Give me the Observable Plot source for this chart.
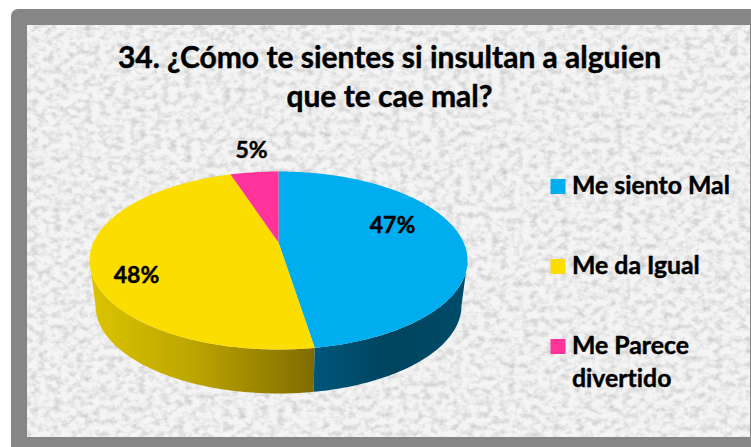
<!DOCTYPE html>
<html lang="es">
<head>
<meta charset="utf-8">
<script src="https://cdn.jsdelivr.net/npm/d3@7"></script>
<script src="https://cdn.jsdelivr.net/npm/@observablehq/plot@0.6"></script>
<style>
html,body{margin:0;padding:0;background:#fff;overflow:hidden}
svg{display:block}
text{font-variant-ligatures:none;font-kerning:normal}
</style>
</head>
<body>
<div id="chart"></div>
<script>
// Data
const categories = ["Me siento Mal", "Me da Igual", "Me Parece divertido"];
const shares = [47.5, 47.5, 5];
const valueLabels = ["47%", "48%", "5%"];
const sliceColors = ["#00AEEF", "#FBDD00", "#FF3399"];
const titleLines = ["34. ¿Cómo te sientes si insultan a alguien", "que te cae mal?"];
const legendLines = [["Me siento Mal"], ["Me da Igual"], ["Me Parece", "divertido"]];

// Layout
const W = 751, H = 447;
const pie = {cx: 278, apexY: 242, topY: 171, botY: 349, rx: 189, ellipseY: 260, depth: 45, wallRx: 183, wallRy: 88};
const labelPos = [[392, 225], [136, 275], [251, 150]];
const titleX = 389, titleY = [58, 97];
const legendX = 557.5, legendTextX = 571.5, legendY = [186, 266, 346], legendLineGap = 33;
const fontFamily = "Lato, Carlito, sans-serif";

// Perspective disc: maps an angle on the pie (clockwise from top) to the screen
const c = ((pie.botY - pie.apexY) - (pie.apexY - pie.topY)) / (pie.botY - pie.topY);
const a = pie.topY * (1 + c) - pie.apexY;
const k = pie.rx * Math.sqrt(1 - c * c);
function project(theta) {
  const u = Math.sin(theta), v = Math.cos(theta), w = 1 + c * v;
  return [pie.cx + k * u / w, (a * v + pie.apexY) / w];
}
function projectWall(theta) {
  const [x, y] = project(theta);
  return [pie.cx + (x - pie.cx) * pie.wallRx / pie.rx,
          pie.ellipseY + pie.depth + (y - pie.ellipseY) * pie.wallRy / (pie.ellipseY - pie.topY)];
}
const arcs = d3.pie().sort(null)(shares);
const STEP = Math.PI / 180;
function angles(t0, t1) {
  const n = Math.max(2, Math.ceil((t1 - t0) / STEP));
  return d3.range(n + 1).map(i => t0 + (t1 - t0) * i / n);
}
const topFace = arcs.flatMap((s, i) => {
  const rim = angles(s.startAngle, s.endAngle).map(project);
  return [[pie.cx, pie.apexY], ...rim].map(([x, y]) => ({x, y, name: categories[i]}));
});
// The visible side wall runs between the two silhouette points of the ellipse
const wallFrom = Math.acos(-c), wallTo = 2 * Math.PI - wallFrom;
function wall(i) {
  const t0 = Math.max(arcs[i].startAngle, wallFrom), t1 = Math.min(arcs[i].endAngle, wallTo);
  if (t1 <= t0) return [];
  const ts = angles(t0, t1);
  return [...ts.map(project), ...ts.slice().reverse().map(projectWall)].map(([x, y]) => ({x, y}));
}

const backdrop = () => {
  const g = d3.create("svg:g");
  g.html(`
    <defs>
      <linearGradient id="wallYellow" x1="0" x2="1" y1="0" y2="0">
        <stop offset="0" stop-color="#dcc400"/><stop offset="0.45" stop-color="#bda600"/><stop offset="1" stop-color="#7f6c00"/>
      </linearGradient>
      <linearGradient id="wallBlue" x1="0" x2="1" y1="0" y2="0">
        <stop offset="0" stop-color="#00567a"/><stop offset="0.5" stop-color="#00445e"/><stop offset="1" stop-color="#004c6a"/>
      </linearGradient>
      <filter id="grain" x="0" y="0" width="100%" height="100%">
        <feTurbulence type="fractalNoise" baseFrequency="0.13 0.16" numOctaves="4" seed="11" result="t"/>
        <feColorMatrix in="t" type="matrix" values="0 0 0 0 0.55  0 0 0 0 0.55  0 0 0 0 0.55  1.7 0 0 0 -0.7" result="a"/>
        <feGaussianBlur in="a" stdDeviation="0.7" result="b"/>
        <feComposite in="b" in2="SourceAlpha" operator="in"/>
      </filter>
    </defs>
    <rect x="11" y="9" width="800" height="500" rx="7" fill="#868686"/>
    <rect x="27" y="25" width="723" height="412" fill="#f4f4f4"/>
    <rect x="27" y="25" width="723" height="412" fill="#888" filter="url(#grain)"/>
  `);
  return g.node();
};

const text = {fontFamily, fontWeight: 700, fill: "#000", stroke: "#000", strokeWidth: 0.45};
const legendText = legendLines.flatMap((lines, i) => lines.map((t, j) => ({t, y: legendY[i] + j * legendLineGap})));

const chart = Plot.plot({
  width: W, height: H, margin: 0,
  style: {background: "#fff", overflow: "hidden"},
  x: {domain: [0, W], range: [0, W], axis: null},
  y: {domain: [0, H], range: [0, H], axis: null},
  color: {domain: categories, range: sliceColors},
  marks: [
    backdrop,
    Plot.text(titleLines, {...text, x: titleX, y: (d, i) => titleY[i], text: d => d, fontSize: 30, textAnchor: "middle"}),
    Plot.line(wall(1), {x: "x", y: "y", fill: "url(#wallYellow)", stroke: "none"}),
    Plot.line(wall(0), {x: "x", y: "y", fill: "url(#wallBlue)", stroke: "none"}),
    Plot.line(topFace, {x: "x", y: "y", z: "name", fill: "name", stroke: "none"}),
    Plot.text(valueLabels, {...text, x: (d, i) => labelPos[i][0], y: (d, i) => labelPos[i][1], text: d => d, fontSize: 23, textAnchor: "middle"}),
    Plot.dot(categories, {x: legendX, y: (d, i) => legendY[i], symbol: "square", r: 8.46, fill: d => d, stroke: "none"}),
    Plot.text(legendText, {...text, x: legendTextX, y: "y", text: "t", fontSize: 24.8, textAnchor: "start"})
  ]
});
document.getElementById("chart").append(chart);
</script>
</body>
</html>
